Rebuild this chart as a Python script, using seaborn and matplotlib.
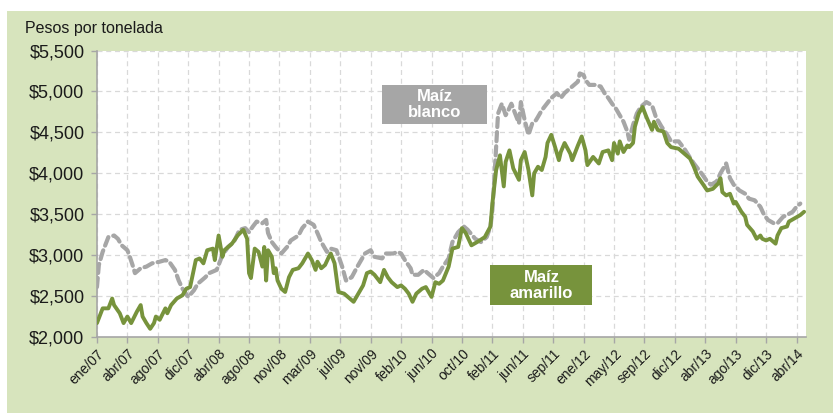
import matplotlib
matplotlib.use("Agg")
import matplotlib.pyplot as plt
import matplotlib.ticker as mticker
from matplotlib.patches import Rectangle
import seaborn as sns
import pandas as pd

# Semanas contadas desde ene/07 y precio en pesos por tonelada
semana_amarillo = [0, 3, 6, 8, 9, 12, 14, 16, 18, 21, 23, 24, 26, 28, 30, 31, 33, 36, 37, 39,
                   42, 45, 47, 49, 52, 54, 56, 58, 61, 62, 64, 66, 67, 71, 74, 77, 79, 80, 81, 83,
                   85, 87, 88, 89, 90, 92, 93, 94, 95, 97, 99, 101, 103, 106, 108, 111, 113, 115, 116, 118,
                   120, 122, 123, 125, 127, 130, 133, 135, 137, 140, 142, 144, 146, 149, 151, 153, 155, 158, 160, 162,
                   164, 166, 168, 171, 173, 176, 178, 180, 182, 185, 187, 190, 192, 194, 197, 200, 204, 207, 208, 210,
                   212, 214, 215, 217, 219, 222, 223, 225, 227, 229, 230, 232, 234, 236, 237, 239, 241, 243, 244, 246,
                   249, 250, 253, 255, 257, 258, 261, 264, 266, 269, 271, 272, 274, 275, 277, 279, 280, 282, 283, 285,
                   287, 289, 292, 293, 295, 298, 300, 302, 306, 309, 312, 314, 316, 319, 321, 324, 327, 328, 329, 331,
                   333, 335, 336, 339, 341, 342, 345, 347, 349, 350, 352, 354, 357, 358, 360, 363, 364, 367, 370, 372]
precio_amarillo = [2170, 2350, 2350, 2470, 2390, 2290, 2170, 2250, 2170, 2310, 2390, 2250, 2170, 2100, 2170, 2250, 2210, 2350, 2290, 2390,
                   2470, 2510, 2590, 2610, 2940, 2960, 2900, 3060, 3080, 2940, 3240, 2980, 3060, 3140, 3240, 3310, 3200, 2780, 2720, 3080,
                   3040, 2860, 3100, 2690, 3060, 2980, 2780, 2840, 2690, 2590, 2550, 2730, 2820, 2840, 2900, 3020, 2940, 2820, 2920, 2840,
                   2880, 2980, 3020, 2900, 2550, 2530, 2470, 2430, 2510, 2630, 2780, 2800, 2760, 2670, 2820, 2730, 2670, 2610, 2630, 2590,
                   2530, 2430, 2530, 2590, 2610, 2490, 2670, 2650, 2690, 2860, 3080, 3100, 3330, 3270, 3120, 3160, 3220, 3350, 3630, 4040,
                   4220, 3840, 4140, 4280, 4060, 3920, 4160, 4260, 4040, 3730, 4000, 4080, 4040, 4200, 4370, 4470, 4320, 4160, 4260, 4370,
                   4240, 4160, 4340, 4450, 4280, 4100, 4200, 4120, 4260, 4280, 4160, 4370, 4240, 4390, 4260, 4340, 4320, 4370, 4570, 4730,
                   4810, 4690, 4530, 4630, 4530, 4510, 4370, 4320, 4300, 4240, 4180, 4080, 3960, 3860, 3790, 3810, 3880, 3940, 3770, 3730,
                   3750, 3630, 3650, 3530, 3470, 3370, 3290, 3200, 3240, 3200, 3180, 3200, 3140, 3240, 3330, 3350, 3410, 3450, 3490, 3530]

semana_blanco = [0, 1, 3, 6, 9, 11, 13, 16, 17, 19, 20, 23, 26, 29, 33, 36, 38, 41, 43, 45,
                 48, 51, 53, 57, 59, 63, 66, 69, 72, 75, 78, 80, 82, 84, 87, 89, 90, 92, 94, 97,
                 100, 102, 106, 108, 111, 114, 116, 118, 121, 123, 126, 129, 131, 134, 137, 141, 144, 146, 150, 152,
                 156, 158, 160, 162, 165, 166, 169, 172, 174, 177, 180, 182, 185, 187, 190, 193, 195, 199, 202, 205,
                 207, 208, 209, 210, 211, 213, 215, 216, 218, 220, 222, 223, 225, 227, 229, 231, 234, 236, 239, 242,
                 244, 246, 248, 250, 253, 254, 256, 257, 259, 262, 265, 267, 269, 271, 273, 275, 277, 279, 280, 282,
                 284, 286, 289, 292, 294, 297, 300, 302, 306, 309, 312, 314, 318, 321, 323, 326, 328, 331, 333, 335,
                 338, 341, 343, 346, 349, 351, 353, 356, 358, 361, 363, 366, 368, 370]
precio_blanco = [2610, 2880, 3040, 3220, 3240, 3200, 3120, 3060, 3000, 2860, 2780, 2840, 2860, 2900, 2920, 2940, 2920, 2820, 2690, 2590,
                 2490, 2570, 2650, 2730, 2780, 2820, 3000, 3100, 3160, 3310, 3330, 3280, 3350, 3410, 3390, 3430, 3270, 3160, 3100, 3020,
                 3100, 3180, 3240, 3330, 3410, 3370, 3270, 3160, 3040, 3080, 3060, 2860, 2690, 2730, 2860, 3020, 3060, 2980, 2960, 3020,
                 3020, 3040, 3020, 2940, 2840, 2760, 2760, 2820, 2780, 2720, 2780, 2860, 2960, 3160, 3280, 3350, 3310, 3200, 3160, 3220,
                 3350, 3550, 3920, 4320, 4730, 4850, 4710, 4750, 4850, 4730, 4610, 4870, 4650, 4470, 4610, 4650, 4770, 4830, 4920, 4980,
                 4920, 4980, 5020, 5060, 5120, 5220, 5200, 5140, 5080, 5080, 5060, 4980, 4920, 4850, 4790, 4710, 4630, 4510, 4410, 4590,
                 4730, 4810, 4870, 4830, 4690, 4570, 4470, 4390, 4390, 4300, 4190, 4120, 4000, 3900, 3860, 3900, 4000, 4120, 3940, 3860,
                 3790, 3750, 3690, 3670, 3590, 3490, 3430, 3390, 3390, 3470, 3490, 3530, 3590, 3630]

etiquetas_x = ["ene/07", "abr/07", "ago/07", "dic/07", "abr/08", "ago/08", "nov/08", "mar/09",
               "jul/09", "nov/09", "feb/10", "jun/10", "oct/10", "feb/11", "jun/11", "sep/11",
               "ene/12", "may/12", "sep/12", "dic/12", "abr/13", "ago/13", "dic/13", "abr/14"]
semanas_por_marca = 16

verde = "#77933C"
gris = "#A6A6A6"
fondo = "#D7E4BD"

df_am = pd.DataFrame({"semana": semana_amarillo, "precio": precio_amarillo})
df_bl = pd.DataFrame({"semana": semana_blanco, "precio": precio_blanco})

sns.set_theme(style="white")
plt.rcParams["font.family"] = ["Liberation Sans", "DejaVu Sans"]

fig = plt.figure(figsize=(8.33, 4.13), dpi=100)
fig.patch.set_facecolor("white")
fig.patches.append(Rectangle((0.0084, 0), 0.9916, 0.9734, transform=fig.transFigure,
                             facecolor=fondo, edgecolor="none", zorder=-10))

ax = fig.add_axes([0.1164, 0.184, 0.8512, 0.6937])
ax.set_facecolor("white")

sns.lineplot(data=df_bl, x="semana", y="precio", ax=ax, color=gris, linewidth=3.0,
             linestyle=(0, (2.2, 1.2)), dash_capstyle="round", zorder=3)
sns.lineplot(data=df_am, x="semana", y="precio", ax=ax, color=verde, linewidth=2.8,
             solid_joinstyle="round", zorder=4)

ax.set_xlim(0, 373)
ax.set_ylim(2000, 5500)
ax.set_yticks(range(2000, 5501, 500))
ax.yaxis.set_major_formatter(mticker.StrMethodFormatter("${x:,.0f}"))
posiciones = [i * semanas_por_marca for i in range(len(etiquetas_x))]
ax.set_xticks(posiciones)
ax.set_xticklabels(etiquetas_x, rotation=45, ha="right", rotation_mode="anchor", fontsize=10)

ax.grid(True, color="#D9D9D9", linestyle=(0, (4, 3)), linewidth=0.9)
ax.set_axisbelow(True)
ax.set_xlabel("")
ax.set_ylabel("")
for lado in ["top", "right"]:
    ax.spines[lado].set_visible(False)
for lado in ["left", "bottom"]:
    ax.spines[lado].set_color("#A6A6A6")
    ax.spines[lado].set_linewidth(1.2)
ax.tick_params(axis="y", which="major", left=True, length=4, width=1, color="#A6A6A6",
               labelsize=13, labelcolor="#1a1a1a", pad=5)
ax.tick_params(axis="x", which="major", bottom=True, length=4, width=1, color="#A6A6A6",
               labelcolor="#1a1a1a", pad=3)

# Etiquetas de las series
ax.add_patch(Rectangle((150, 4600), 55, 478, facecolor=gris, edgecolor="none", zorder=6))
ax.text(177.5, 4840, "Maíz\nblanco", ha="center", va="center", color="white",
        fontsize=12, fontweight="bold", linespacing=1.1, zorder=7)
ax.add_patch(Rectangle((207, 2390), 53.6, 488, facecolor=verde, edgecolor="none", zorder=6))
ax.text(233.8, 2634, "Maíz\namarillo", ha="center", va="center", color="white",
        fontsize=12, fontweight="bold", linespacing=1.1, zorder=7)

fig.text(0.030, 0.920, "Pesos por tonelada", fontsize=11.5, color="#1a1a1a", va="baseline")

fig.savefig("out.png", dpi=100)
